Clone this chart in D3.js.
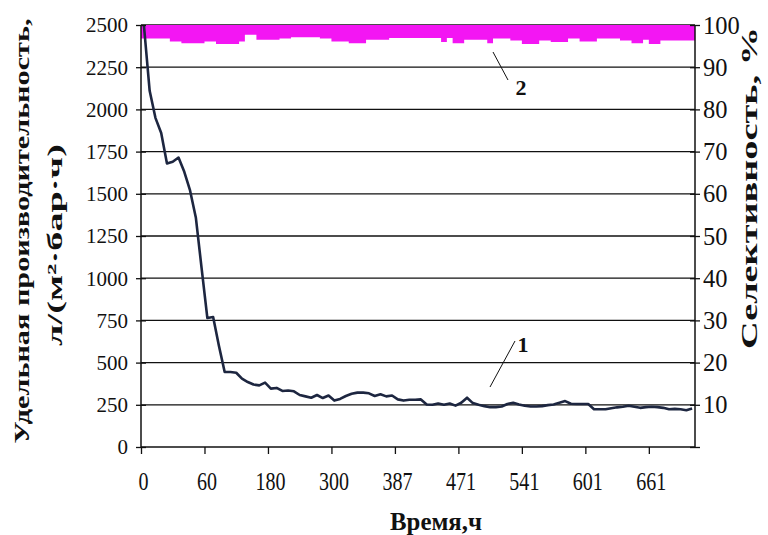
<!DOCTYPE html>
<html><head><meta charset="utf-8">
<script src="https://cdn.jsdelivr.net/npm/d3@7"></script>
<style>
html,body{margin:0;padding:0;background:#fff;}
svg{display:block;font-family:"Liberation Serif","Times New Roman",serif;}
</style></head>
<body>
<svg id="chart" width="768" height="535"></svg>
<script>
// ---- data ----
const timeTickLabels = ["0","60","180","300","387","471","541","601","661"];
const tickEvery = 11;
const productivity = [2500,2110,1950,1860,1680,1690,1715,1630,1520,1360,
  1060,764,770,600,444,444,440,405,385,370,
  365,381,346,350,332,335,330,308,300,292,
  308,290,305,275,285,302,315,322,322,318,
  302,312,300,305,282,275,280,280,282,252,
  250,258,250,258,245,262,292,260,250,242,
  236,236,240,255,262,252,244,240,240,242,
  248,252,262,272,256,255,255,255,224,224,
  224,230,235,238,244,238,232,236,238,236,
  232,224,226,224,218,228];
const selectivity = [96.8,96.8,96.8,96.8,96.8,96.1,96.1,95.7,95.7,95.7,
  95.7,96.1,96.1,95.5,95.5,95.5,95.5,96.1,97.7,97.7,
  96.5,96.5,96.5,96.5,96.8,96.8,97.1,97.1,97.1,97.1,
  97.1,96.8,96.8,96.1,96.1,96.1,95.7,95.7,95.7,96.5,
  96.5,96.5,96.5,96.9,96.9,96.9,96.9,96.9,96.9,96.9,
  96.9,96.9,96.0,96.9,95.7,95.7,96.5,96.5,96.5,96.5,
  95.7,96.8,96.8,96.8,96.3,96.3,95.5,95.5,95.5,96.3,
  96.3,96.0,96.0,96.0,96.8,96.8,96.1,96.1,96.1,96.8,
  96.8,96.8,96.8,96.3,96.3,95.7,95.7,96.5,95.5,95.5,
  96.3,96.3,96.3,96.3,96.3,96.3];
const leftTicks = [0,250,500,750,1000,1250,1500,1750,2000,2250,2500];
const rightTicks = [10,20,30,40,50,60,70,80,90,100];

// ---- layout ----
const L = 141, R = 695, T = 25, B = 447;
const N = productivity.length;
const svg = d3.select("#chart");

const xb = d3.scaleBand().domain(d3.range(N)).range([L, R]).padding(0);
const cx = i => xb(i) + xb.bandwidth() / 2;
const xt = d3.scaleLinear().domain([0, N]).range([L, R]);
const yL = d3.scaleLinear().domain([0, 2500]).range([B, T]);
const yR = d3.scaleLinear().domain([0, 100]).range([B, T]);

svg.append("defs").append("clipPath").attr("id","plot")
  .append("rect").attr("x",L).attr("y",T).attr("width",R-L).attr("height",B-T);

// gridlines
svg.append("g").selectAll("line").data(leftTicks.filter(d=>d>0)).join("line")
  .attr("x1",L).attr("x2",R).attr("y1",d=>yL(d)).attr("y2",d=>yL(d))
  .attr("stroke","#111").attr("stroke-width",1.3);

// series 2: selectivity band (magenta)
const area = d3.area().x((d,i)=>cx(i)).y0(yR(100)).y1(d=>yR(d)).curve(d3.curveStep);
svg.append("path").datum(selectivity).attr("clip-path","url(#plot)")
  .attr("d", d3.area().x((d,i)=> i===0 ? L : (i===N-1 ? R : cx(i))).y0(yR(100)).y1(d=>yR(d)).curve(d3.curveStep))
  .attr("fill","#f316f3");

// series 1: productivity line
svg.append("path").datum(productivity)
  .attr("d", d3.line().x((d,i)=>cx(i)).y(d=>yL(d)))
  .attr("fill","none").attr("stroke","#1d2640").attr("stroke-width",2.6)
  .attr("stroke-linejoin","round");

// axes lines
const axG = svg.append("g").attr("stroke","#111").attr("stroke-width",1.5);
axG.append("line").attr("x1",L).attr("x2",L).attr("y1",T).attr("y2",B);
axG.append("line").attr("x1",R).attr("x2",R).attr("y1",T).attr("y2",B);
axG.append("line").attr("x1",L).attr("x2",R).attr("y1",B).attr("y2",B);

// left axis
const la = svg.append("g").attr("transform",`translate(${L},0)`)
  .call(d3.axisLeft(yL).tickValues(leftTicks).tickSize(5).tickPadding(8).tickFormat(d3.format("d")));
la.select(".domain").remove();
la.selectAll(".tick line").attr("x1",5).attr("x2",-5).attr("stroke","#111").attr("stroke-width",1.3);
la.selectAll(".tick text").attr("font-size",21).attr("fill","#111")
  .attr("font-family","Liberation Serif, serif").attr("dy","0.33em");

// right axis
const ra = svg.append("g").attr("transform",`translate(${R},0)`)
  .call(d3.axisRight(yR).tickValues([0].concat(rightTicks)).tickSize(5).tickPadding(3)
    .tickFormat(d => d===0 ? "" : d3.format("d")(d)));
ra.select(".domain").remove();
ra.selectAll(".tick line").attr("x1",-5).attr("x2",5).attr("stroke","#111").attr("stroke-width",1.3);
ra.selectAll(".tick text").attr("font-size",24.5).attr("fill","#111")
  .attr("font-family","Liberation Serif, serif").attr("dy","0.33em");

// bottom axis
const tickIdx = timeTickLabels.map((d,k)=>k*tickEvery);
const ba = svg.append("g").attr("transform",`translate(0,${B})`)
  .call(d3.axisBottom(xt).tickValues(tickIdx).tickSize(7).tickFormat((d,k)=>timeTickLabels[k]));
ba.select(".domain").remove();
ba.selectAll(".tick line").attr("stroke","#111").attr("stroke-width",1.3);
ba.selectAll(".tick text").each(function(){
  const t = d3.select(this);
  t.attr("y",null).attr("dy",null).attr("font-size",26).attr("fill","#111")
   .attr("font-family","Liberation Serif, serif")
   .attr("transform","translate(2,43) scale(0.77,1)");
});

// axis titles
svg.append("text").attr("transform","translate(29,231) rotate(-90)")
  .attr("text-anchor","middle").attr("font-weight","bold").attr("font-size",22)
  .attr("textLength",425).attr("lengthAdjust","spacingAndGlyphs").attr("fill","#111")
  .text("Удельная производительность,");
svg.append("text").attr("transform","translate(62,245) rotate(-90)")
  .attr("text-anchor","middle").attr("font-weight","bold").attr("font-size",22)
  .attr("textLength",202).attr("lengthAdjust","spacingAndGlyphs").attr("fill","#111")
  .text("л/(м²·бар·ч)");
svg.append("text").attr("transform","translate(757,188) rotate(-90)")
  .attr("text-anchor","middle").attr("font-weight","bold").attr("font-size",24)
  .attr("textLength",322).attr("lengthAdjust","spacingAndGlyphs").attr("fill","#111")
  .text("Селективность, %");
svg.append("text").attr("x",436).attr("y",530)
  .attr("text-anchor","middle").attr("font-weight","bold").attr("font-size",26)
  .attr("textLength",92).attr("lengthAdjust","spacingAndGlyphs").attr("fill","#111")
  .text("Время,ч");

// curve labels
svg.append("line").attr("x1",493).attr("y1",52).attr("x2",508).attr("y2",80)
  .attr("stroke","#111").attr("stroke-width",1);
svg.append("text").attr("x",521).attr("y",95).attr("text-anchor","middle")
  .attr("font-weight","bold").attr("font-size",22).attr("fill","#111").text("2");
svg.append("line").attr("x1",515).attr("y1",341).attr("x2",490).attr("y2",387)
  .attr("stroke","#111").attr("stroke-width",1);
svg.append("text").attr("x",523).attr("y",352).attr("text-anchor","middle")
  .attr("font-weight","bold").attr("font-size",22).attr("fill","#111").text("1");
</script>
</body></html>
